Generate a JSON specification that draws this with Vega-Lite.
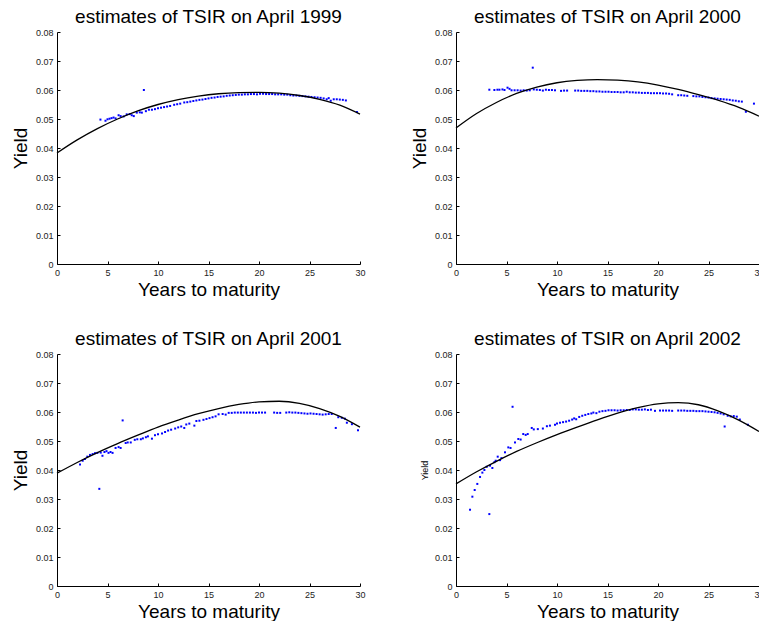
{
"$schema": "https://vega.github.io/schema/vega-lite/v6.json",
"background": "white",
"padding": {"left": 11, "top": 8, "right": 0, "bottom": 0},
"config": {
  "font": "Liberation Sans",
  "view": {"stroke": null},
  "axis": {"grid": false, "domainColor": "black", "tickColor": "black", "labelColor": "#222", "labelFontSize": 9, "titleFontSize": 19, "titleFontWeight": "normal", "titleColor": "black", "tickSize": -3, "labelPadding": 7, "labelFlush": false, "labelOverlap": false, "domainWidth": 1, "tickWidth": 1},
  "axisX": {"titlePadding": 3},
  "axisY": {"titlePadding": 5},
  "title": {"fontSize": 19, "fontWeight": "normal", "color": "black", "offset": 1}
},
"datasets": {
"pts": [
{"p":1999,"m":4.3,"y":0.0498},{"p":1999,"m":4.8,"y":0.0494},{"p":1999,"m":5.0,"y":0.0499},{"p":1999,"m":5.2,"y":0.0501},{"p":1999,"m":5.4,"y":0.0503},{"p":1999,"m":5.6,"y":0.0505},{"p":1999,"m":5.8,"y":0.0502},{"p":1999,"m":6.1,"y":0.0513},{"p":1999,"m":6.3,"y":0.051},{"p":1999,"m":6.6,"y":0.0509},{"p":1999,"m":6.9,"y":0.0516},{"p":1999,"m":7.2,"y":0.0517},{"p":1999,"m":7.4,"y":0.0513},{"p":1999,"m":7.6,"y":0.051},{"p":1999,"m":7.9,"y":0.0522},{"p":1999,"m":8.2,"y":0.0523},{"p":1999,"m":8.4,"y":0.0522},{"p":1999,"m":8.6,"y":0.06},{"p":1999,"m":8.8,"y":0.0527},{"p":1999,"m":9.1,"y":0.0532},{"p":1999,"m":9.4,"y":0.0532},{"p":1999,"m":9.7,"y":0.0534},{"p":1999,"m":10.0,"y":0.0537},{"p":1999,"m":10.3,"y":0.0539},{"p":1999,"m":10.6,"y":0.0541},{"p":1999,"m":10.9,"y":0.0543},{"p":1999,"m":11.2,"y":0.0545},{"p":1999,"m":11.6,"y":0.0549},{"p":1999,"m":11.9,"y":0.0551},{"p":1999,"m":12.2,"y":0.0553},{"p":1999,"m":12.6,"y":0.0557},{"p":1999,"m":12.9,"y":0.0558},{"p":1999,"m":13.2,"y":0.056},{"p":1999,"m":13.5,"y":0.0562},{"p":1999,"m":13.8,"y":0.0564},{"p":1999,"m":14.1,"y":0.0566},{"p":1999,"m":14.4,"y":0.0567},{"p":1999,"m":14.7,"y":0.0569},{"p":1999,"m":15.0,"y":0.0571},{"p":1999,"m":15.3,"y":0.0573},{"p":1999,"m":15.6,"y":0.0574},{"p":1999,"m":15.9,"y":0.0576},{"p":1999,"m":16.2,"y":0.0577},{"p":1999,"m":16.5,"y":0.0578},{"p":1999,"m":16.8,"y":0.058},{"p":1999,"m":17.1,"y":0.0581},{"p":1999,"m":17.4,"y":0.0582},{"p":1999,"m":17.7,"y":0.0583},{"p":1999,"m":18.0,"y":0.0584},{"p":1999,"m":18.3,"y":0.0584},{"p":1999,"m":18.6,"y":0.0585},{"p":1999,"m":18.9,"y":0.0585},{"p":1999,"m":19.2,"y":0.0586},{"p":1999,"m":19.5,"y":0.0586},{"p":1999,"m":19.8,"y":0.0585},{"p":1999,"m":20.1,"y":0.0587},{"p":1999,"m":20.4,"y":0.0587},{"p":1999,"m":20.7,"y":0.0586},{"p":1999,"m":21.0,"y":0.0586},{"p":1999,"m":21.3,"y":0.0586},{"p":1999,"m":21.6,"y":0.0585},{"p":1999,"m":21.9,"y":0.0585},{"p":1999,"m":22.2,"y":0.0585},{"p":1999,"m":22.5,"y":0.0584},{"p":1999,"m":22.8,"y":0.0584},{"p":1999,"m":23.1,"y":0.0582},{"p":1999,"m":23.4,"y":0.0581},{"p":1999,"m":23.7,"y":0.0581},{"p":1999,"m":24.0,"y":0.058},{"p":1999,"m":24.3,"y":0.0579},{"p":1999,"m":24.6,"y":0.0578},{"p":1999,"m":24.9,"y":0.0577},{"p":1999,"m":25.2,"y":0.0576},{"p":1999,"m":25.5,"y":0.0575},{"p":1999,"m":25.8,"y":0.0574},{"p":1999,"m":26.1,"y":0.0573},{"p":1999,"m":26.4,"y":0.0571},{"p":1999,"m":26.7,"y":0.0568},{"p":1999,"m":26.9,"y":0.0572},{"p":1999,"m":27.1,"y":0.0563},{"p":1999,"m":27.4,"y":0.0568},{"p":1999,"m":27.7,"y":0.0568},{"p":1999,"m":28.0,"y":0.0567},{"p":1999,"m":28.3,"y":0.0566},{"p":1999,"m":28.6,"y":0.0564},{"p":1999,"m":29.7,"y":0.0524},
{"p":2000,"m":3.3,"y":0.0601},{"p":2000,"m":3.8,"y":0.06},{"p":2000,"m":4.1,"y":0.0601},{"p":2000,"m":4.3,"y":0.0601},{"p":2000,"m":4.6,"y":0.0602},{"p":2000,"m":4.8,"y":0.06},{"p":2000,"m":5.1,"y":0.0608},{"p":2000,"m":5.3,"y":0.0604},{"p":2000,"m":5.5,"y":0.0599},{"p":2000,"m":5.8,"y":0.0599},{"p":2000,"m":6.1,"y":0.0599},{"p":2000,"m":6.4,"y":0.0598},{"p":2000,"m":6.7,"y":0.0599},{"p":2000,"m":7.0,"y":0.0598},{"p":2000,"m":7.3,"y":0.0599},{"p":2000,"m":7.6,"y":0.0677},{"p":2000,"m":7.7,"y":0.0602},{"p":2000,"m":8.0,"y":0.0601},{"p":2000,"m":8.3,"y":0.06},{"p":2000,"m":8.6,"y":0.0598},{"p":2000,"m":8.9,"y":0.0601},{"p":2000,"m":9.2,"y":0.06},{"p":2000,"m":9.5,"y":0.06},{"p":2000,"m":9.8,"y":0.0599},{"p":2000,"m":10.4,"y":0.0597},{"p":2000,"m":10.7,"y":0.0598},{"p":2000,"m":11.0,"y":0.0598},{"p":2000,"m":11.8,"y":0.0598},{"p":2000,"m":12.1,"y":0.0598},{"p":2000,"m":12.4,"y":0.0597},{"p":2000,"m":12.7,"y":0.0597},{"p":2000,"m":13.0,"y":0.0597},{"p":2000,"m":13.3,"y":0.0596},{"p":2000,"m":13.6,"y":0.0596},{"p":2000,"m":13.9,"y":0.0595},{"p":2000,"m":14.2,"y":0.0595},{"p":2000,"m":14.5,"y":0.0594},{"p":2000,"m":14.8,"y":0.0594},{"p":2000,"m":15.1,"y":0.0594},{"p":2000,"m":15.4,"y":0.0593},{"p":2000,"m":15.7,"y":0.0593},{"p":2000,"m":16.0,"y":0.0593},{"p":2000,"m":16.3,"y":0.0592},{"p":2000,"m":16.6,"y":0.0592},{"p":2000,"m":16.9,"y":0.0594},{"p":2000,"m":17.2,"y":0.0592},{"p":2000,"m":17.5,"y":0.0592},{"p":2000,"m":17.8,"y":0.0591},{"p":2000,"m":18.1,"y":0.0591},{"p":2000,"m":18.4,"y":0.059},{"p":2000,"m":18.7,"y":0.059},{"p":2000,"m":19.0,"y":0.059},{"p":2000,"m":19.3,"y":0.0589},{"p":2000,"m":19.6,"y":0.0589},{"p":2000,"m":19.9,"y":0.0589},{"p":2000,"m":20.2,"y":0.0589},{"p":2000,"m":20.5,"y":0.0588},{"p":2000,"m":20.8,"y":0.0588},{"p":2000,"m":21.1,"y":0.0587},{"p":2000,"m":21.4,"y":0.0585},{"p":2000,"m":22.0,"y":0.0582},{"p":2000,"m":22.3,"y":0.0582},{"p":2000,"m":22.6,"y":0.0581},{"p":2000,"m":22.9,"y":0.058},{"p":2000,"m":23.5,"y":0.0579},{"p":2000,"m":23.8,"y":0.0578},{"p":2000,"m":24.1,"y":0.0578},{"p":2000,"m":24.4,"y":0.0576},{"p":2000,"m":24.7,"y":0.0575},{"p":2000,"m":25.0,"y":0.0574},{"p":2000,"m":25.3,"y":0.0572},{"p":2000,"m":25.6,"y":0.0571},{"p":2000,"m":25.9,"y":0.057},{"p":2000,"m":26.2,"y":0.0569},{"p":2000,"m":26.5,"y":0.0568},{"p":2000,"m":26.8,"y":0.0567},{"p":2000,"m":27.1,"y":0.0566},{"p":2000,"m":27.4,"y":0.0564},{"p":2000,"m":27.7,"y":0.0563},{"p":2000,"m":28.0,"y":0.0561},{"p":2000,"m":28.3,"y":0.056},{"p":2000,"m":28.7,"y":0.0525},{"p":2000,"m":29.5,"y":0.0553},
{"p":2001,"m":2.28,"y":0.0419},{"p":2001,"m":2.54,"y":0.0432},{"p":2001,"m":2.77,"y":0.0438},{"p":2001,"m":3.0,"y":0.0446},{"p":2001,"m":3.27,"y":0.0452},{"p":2001,"m":3.53,"y":0.0455},{"p":2001,"m":3.76,"y":0.0458},{"p":2001,"m":4.0,"y":0.0459},{"p":2001,"m":4.19,"y":0.0335},{"p":2001,"m":4.33,"y":0.046},{"p":2001,"m":4.5,"y":0.0449},{"p":2001,"m":4.7,"y":0.0462},{"p":2001,"m":4.9,"y":0.0465},{"p":2001,"m":5.1,"y":0.0459},{"p":2001,"m":5.3,"y":0.0462},{"p":2001,"m":5.5,"y":0.0459},{"p":2001,"m":5.8,"y":0.0476},{"p":2001,"m":6.1,"y":0.0479},{"p":2001,"m":6.3,"y":0.0476},{"p":2001,"m":6.5,"y":0.0571},{"p":2001,"m":6.8,"y":0.0493},{"p":2001,"m":7.0,"y":0.0495},{"p":2001,"m":7.3,"y":0.0495},{"p":2001,"m":7.7,"y":0.0504},{"p":2001,"m":7.95,"y":0.0506},{"p":2001,"m":8.3,"y":0.0506},{"p":2001,"m":8.5,"y":0.0509},{"p":2001,"m":8.8,"y":0.0513},{"p":2001,"m":9.0,"y":0.0516},{"p":2001,"m":9.4,"y":0.0508},{"p":2001,"m":9.7,"y":0.052},{"p":2001,"m":10.0,"y":0.0523},{"p":2001,"m":10.4,"y":0.0526},{"p":2001,"m":10.7,"y":0.0531},{"p":2001,"m":11.0,"y":0.0536},{"p":2001,"m":11.3,"y":0.0539},{"p":2001,"m":11.7,"y":0.0543},{"p":2001,"m":12.0,"y":0.0547},{"p":2001,"m":12.3,"y":0.055},{"p":2001,"m":12.6,"y":0.0545},{"p":2001,"m":12.8,"y":0.0557},{"p":2001,"m":13.1,"y":0.056},{"p":2001,"m":13.6,"y":0.0553},{"p":2001,"m":13.8,"y":0.0569},{"p":2001,"m":14.1,"y":0.057},{"p":2001,"m":14.5,"y":0.0573},{"p":2001,"m":14.8,"y":0.0576},{"p":2001,"m":15.1,"y":0.0579},{"p":2001,"m":15.4,"y":0.0582},{"p":2001,"m":15.7,"y":0.0585},{"p":2001,"m":16.0,"y":0.0592},{"p":2001,"m":16.4,"y":0.0593},{"p":2001,"m":16.7,"y":0.0591},{"p":2001,"m":17.0,"y":0.0597},{"p":2001,"m":17.3,"y":0.0597},{"p":2001,"m":17.6,"y":0.0598},{"p":2001,"m":17.9,"y":0.0598},{"p":2001,"m":18.2,"y":0.0598},{"p":2001,"m":18.5,"y":0.0598},{"p":2001,"m":18.8,"y":0.0598},{"p":2001,"m":19.1,"y":0.0598},{"p":2001,"m":19.4,"y":0.0598},{"p":2001,"m":19.7,"y":0.0597},{"p":2001,"m":20.0,"y":0.0598},{"p":2001,"m":20.3,"y":0.0598},{"p":2001,"m":20.6,"y":0.0598},{"p":2001,"m":21.5,"y":0.0598},{"p":2001,"m":21.8,"y":0.0597},{"p":2001,"m":22.1,"y":0.0597},{"p":2001,"m":22.7,"y":0.0598},{"p":2001,"m":23.0,"y":0.0599},{"p":2001,"m":23.3,"y":0.0598},{"p":2001,"m":23.6,"y":0.0598},{"p":2001,"m":23.9,"y":0.0597},{"p":2001,"m":24.2,"y":0.0596},{"p":2001,"m":24.5,"y":0.0595},{"p":2001,"m":24.8,"y":0.0594},{"p":2001,"m":25.1,"y":0.0595},{"p":2001,"m":25.4,"y":0.0594},{"p":2001,"m":25.7,"y":0.0593},{"p":2001,"m":26.0,"y":0.0592},{"p":2001,"m":26.3,"y":0.0591},{"p":2001,"m":26.6,"y":0.0592},{"p":2001,"m":26.9,"y":0.0593},{"p":2001,"m":27.2,"y":0.0593},{"p":2001,"m":27.6,"y":0.0545},{"p":2001,"m":27.85,"y":0.0582},{"p":2001,"m":28.2,"y":0.058},{"p":2001,"m":28.5,"y":0.0577},{"p":2001,"m":28.7,"y":0.0563},{"p":2001,"m":29.2,"y":0.0558},{"p":2001,"m":29.8,"y":0.0537},
{"p":2002,"m":1.39,"y":0.0263},{"p":2002,"m":1.62,"y":0.0308},{"p":2002,"m":1.85,"y":0.0331},{"p":2002,"m":2.11,"y":0.0352},{"p":2002,"m":2.38,"y":0.0376},{"p":2002,"m":2.61,"y":0.0391},{"p":2002,"m":2.81,"y":0.04},{"p":2002,"m":3.04,"y":0.0411},{"p":2002,"m":3.3,"y":0.0248},{"p":2002,"m":3.37,"y":0.0415},{"p":2002,"m":3.6,"y":0.0407},{"p":2002,"m":3.8,"y":0.0427},{"p":2002,"m":3.93,"y":0.0432},{"p":2002,"m":4.13,"y":0.0446},{"p":2002,"m":4.36,"y":0.0434},{"p":2002,"m":4.5,"y":0.0441},{"p":2002,"m":4.85,"y":0.0461},{"p":2002,"m":5.18,"y":0.0478},{"p":2002,"m":5.4,"y":0.0476},{"p":2002,"m":5.6,"y":0.0618},{"p":2002,"m":5.84,"y":0.0495},{"p":2002,"m":6.17,"y":0.0507},{"p":2002,"m":6.4,"y":0.0505},{"p":2002,"m":6.66,"y":0.0524},{"p":2002,"m":6.9,"y":0.0521},{"p":2002,"m":7.1,"y":0.0524},{"p":2002,"m":7.5,"y":0.0545},{"p":2002,"m":7.7,"y":0.054},{"p":2002,"m":8.1,"y":0.0541},{"p":2002,"m":8.6,"y":0.0543},{"p":2002,"m":9.0,"y":0.0551},{"p":2002,"m":9.3,"y":0.0553},{"p":2002,"m":9.8,"y":0.0556},{"p":2002,"m":10.0,"y":0.056},{"p":2002,"m":10.3,"y":0.0563},{"p":2002,"m":10.6,"y":0.0565},{"p":2002,"m":10.9,"y":0.0567},{"p":2002,"m":11.2,"y":0.057},{"p":2002,"m":11.5,"y":0.0574},{"p":2002,"m":11.7,"y":0.0578},{"p":2002,"m":11.9,"y":0.0575},{"p":2002,"m":12.2,"y":0.0583},{"p":2002,"m":12.5,"y":0.0587},{"p":2002,"m":12.8,"y":0.059},{"p":2002,"m":13.1,"y":0.0593},{"p":2002,"m":13.4,"y":0.0595},{"p":2002,"m":13.6,"y":0.0598},{"p":2002,"m":13.9,"y":0.0596},{"p":2002,"m":14.2,"y":0.0601},{"p":2002,"m":14.5,"y":0.0603},{"p":2002,"m":14.8,"y":0.0604},{"p":2002,"m":15.1,"y":0.0606},{"p":2002,"m":15.4,"y":0.0606},{"p":2002,"m":15.7,"y":0.0606},{"p":2002,"m":16.0,"y":0.0605},{"p":2002,"m":16.3,"y":0.0606},{"p":2002,"m":16.6,"y":0.0606},{"p":2002,"m":16.9,"y":0.0607},{"p":2002,"m":17.2,"y":0.0607},{"p":2002,"m":17.5,"y":0.0609},{"p":2002,"m":17.8,"y":0.0609},{"p":2002,"m":18.1,"y":0.0608},{"p":2002,"m":18.4,"y":0.0608},{"p":2002,"m":18.7,"y":0.0609},{"p":2002,"m":19.0,"y":0.0607},{"p":2002,"m":19.3,"y":0.0608},{"p":2002,"m":19.7,"y":0.0604},{"p":2002,"m":20.2,"y":0.0605},{"p":2002,"m":20.5,"y":0.0605},{"p":2002,"m":20.8,"y":0.0605},{"p":2002,"m":21.1,"y":0.0605},{"p":2002,"m":21.4,"y":0.0604},{"p":2002,"m":22.0,"y":0.0605},{"p":2002,"m":22.3,"y":0.0605},{"p":2002,"m":22.6,"y":0.0605},{"p":2002,"m":22.9,"y":0.0604},{"p":2002,"m":23.2,"y":0.0604},{"p":2002,"m":23.5,"y":0.0604},{"p":2002,"m":23.8,"y":0.0603},{"p":2002,"m":24.1,"y":0.0603},{"p":2002,"m":24.4,"y":0.0603},{"p":2002,"m":24.7,"y":0.0602},{"p":2002,"m":25.0,"y":0.0601},{"p":2002,"m":25.3,"y":0.06},{"p":2002,"m":25.6,"y":0.0599},{"p":2002,"m":25.9,"y":0.0597},{"p":2002,"m":26.2,"y":0.0595},{"p":2002,"m":26.5,"y":0.0592},{"p":2002,"m":26.6,"y":0.055},{"p":2002,"m":26.9,"y":0.0587},{"p":2002,"m":27.2,"y":0.0585},{"p":2002,"m":27.5,"y":0.0586},{"p":2002,"m":27.8,"y":0.0584},{"p":2002,"m":28.1,"y":0.0574},{"p":2002,"m":28.9,"y":0.0556}
],
"fit": [
{"p":1999,"m":0,"y":0.0383},{"p":1999,"m":2,"y":0.0428},{"p":1999,"m":4,"y":0.0467},{"p":1999,"m":6,"y":0.05},{"p":1999,"m":8,"y":0.0528},{"p":1999,"m":10,"y":0.055},{"p":1999,"m":12,"y":0.0567},{"p":1999,"m":14,"y":0.0579},{"p":1999,"m":16,"y":0.0587},{"p":1999,"m":18,"y":0.0591},{"p":1999,"m":20,"y":0.0592},{"p":1999,"m":22,"y":0.0589},{"p":1999,"m":24,"y":0.0581},{"p":1999,"m":26,"y":0.0568},{"p":1999,"m":28,"y":0.0548},{"p":1999,"m":30,"y":0.0517},
{"p":2000,"m":0,"y":0.0469},{"p":2000,"m":2,"y":0.0518},{"p":2000,"m":4,"y":0.0557},{"p":2000,"m":6,"y":0.0588},{"p":2000,"m":8,"y":0.061},{"p":2000,"m":10,"y":0.0625},{"p":2000,"m":12,"y":0.0633},{"p":2000,"m":14,"y":0.0636},{"p":2000,"m":16,"y":0.0634},{"p":2000,"m":18,"y":0.0628},{"p":2000,"m":20,"y":0.0617},{"p":2000,"m":22,"y":0.0602},{"p":2000,"m":24,"y":0.0584},{"p":2000,"m":26,"y":0.0564},{"p":2000,"m":28,"y":0.054},{"p":2000,"m":30,"y":0.051},
{"p":2001,"m":0,"y":0.0389},{"p":2001,"m":2,"y":0.0426},{"p":2001,"m":4,"y":0.046},{"p":2001,"m":6,"y":0.0491},{"p":2001,"m":8,"y":0.052},{"p":2001,"m":10,"y":0.0548},{"p":2001,"m":12,"y":0.0572},{"p":2001,"m":14,"y":0.0594},{"p":2001,"m":16,"y":0.0612},{"p":2001,"m":18,"y":0.0626},{"p":2001,"m":20,"y":0.0635},{"p":2001,"m":22,"y":0.0637},{"p":2001,"m":24,"y":0.063},{"p":2001,"m":26,"y":0.0612},{"p":2001,"m":28,"y":0.0585},{"p":2001,"m":30,"y":0.0548},
{"p":2002,"m":0,"y":0.0352},{"p":2002,"m":2,"y":0.0393},{"p":2002,"m":4,"y":0.043},{"p":2002,"m":6,"y":0.0464},{"p":2002,"m":8,"y":0.0494},{"p":2002,"m":10,"y":0.0522},{"p":2002,"m":12,"y":0.0548},{"p":2002,"m":14,"y":0.0573},{"p":2002,"m":16,"y":0.0596},{"p":2002,"m":18,"y":0.0615},{"p":2002,"m":20,"y":0.0628},{"p":2002,"m":22,"y":0.0632},{"p":2002,"m":24,"y":0.0625},{"p":2002,"m":26,"y":0.0603},{"p":2002,"m":28,"y":0.0572},{"p":2002,"m":30,"y":0.0533}
]
},
"bounds": "flush",
"columns": 2,
"spacing": {"column": 96, "row": 90},
"concat": [
{"width": 303, "height": 232, "title": "estimates of TSIR on April 1999",
 "encoding": {
  "x": {"field": "m", "type": "quantitative", "scale": {"domain": [0, 30], "nice": false}, "axis": {"title": "Years to maturity", "values": [0,5,10,15,20,25,30]}},
  "y": {"field": "y", "type": "quantitative", "scale": {"domain": [0, 0.08], "nice": false}, "axis": {"title": "Yield", "values": [0,0.01,0.02,0.03,0.04,0.05,0.06,0.07,0.08], "format": "~g"}}},
 "layer": [
  {"data": {"name": "pts"}, "transform": [{"filter": "datum.p == 1999"}], "mark": {"type": "square", "size": 4, "color": "#0000ff", "opacity": 1}},
  {"data": {"name": "fit"}, "transform": [{"filter": "datum.p == 1999"}], "mark": {"type": "line", "color": "black", "strokeWidth": 1.3, "interpolate": "monotone"}, "encoding": {}}
 ]},
{"width": 303, "height": 232, "title": "estimates of TSIR on April 2000",
 "encoding": {
  "x": {"field": "m", "type": "quantitative", "scale": {"domain": [0, 30], "nice": false}, "axis": {"title": "Years to maturity", "values": [0,5,10,15,20,25,30]}},
  "y": {"field": "y", "type": "quantitative", "scale": {"domain": [0, 0.08], "nice": false}, "axis": {"title": "Yield", "values": [0,0.01,0.02,0.03,0.04,0.05,0.06,0.07,0.08], "format": "~g"}}},
 "layer": [
  {"data": {"name": "pts"}, "transform": [{"filter": "datum.p == 2000"}], "mark": {"type": "square", "size": 4, "color": "#0000ff", "opacity": 1}},
  {"data": {"name": "fit"}, "transform": [{"filter": "datum.p == 2000"}], "mark": {"type": "line", "color": "black", "strokeWidth": 1.3, "interpolate": "monotone"}, "encoding": {}}
 ]},
{"width": 303, "height": 232, "title": "estimates of TSIR on April 2001",
 "encoding": {
  "x": {"field": "m", "type": "quantitative", "scale": {"domain": [0, 30], "nice": false}, "axis": {"title": "Years to maturity", "values": [0,5,10,15,20,25,30]}},
  "y": {"field": "y", "type": "quantitative", "scale": {"domain": [0, 0.08], "nice": false}, "axis": {"title": "Yield", "values": [0,0.01,0.02,0.03,0.04,0.05,0.06,0.07,0.08], "format": "~g"}}},
 "layer": [
  {"data": {"name": "pts"}, "transform": [{"filter": "datum.p == 2001"}], "mark": {"type": "square", "size": 4, "color": "#0000ff", "opacity": 1}},
  {"data": {"name": "fit"}, "transform": [{"filter": "datum.p == 2001"}], "mark": {"type": "line", "color": "black", "strokeWidth": 1.3, "interpolate": "monotone"}, "encoding": {}}
 ]},
{"width": 303, "height": 232, "title": "estimates of TSIR on April 2002",
 "encoding": {
  "x": {"field": "m", "type": "quantitative", "scale": {"domain": [0, 30], "nice": false}, "axis": {"title": "Years to maturity", "values": [0,5,10,15,20,25,30]}},
  "y": {"field": "y", "type": "quantitative", "scale": {"domain": [0, 0.08], "nice": false}, "axis": {"title": "Yield", "titleFontSize": 9, "values": [0,0.01,0.02,0.03,0.04,0.05,0.06,0.07,0.08], "format": "~g"}}},
 "layer": [
  {"data": {"name": "pts"}, "transform": [{"filter": "datum.p == 2002"}], "mark": {"type": "square", "size": 4, "color": "#0000ff", "opacity": 1}},
  {"data": {"name": "fit"}, "transform": [{"filter": "datum.p == 2002"}], "mark": {"type": "line", "color": "black", "strokeWidth": 1.3, "interpolate": "monotone"}, "encoding": {}}
 ]}
]
}
